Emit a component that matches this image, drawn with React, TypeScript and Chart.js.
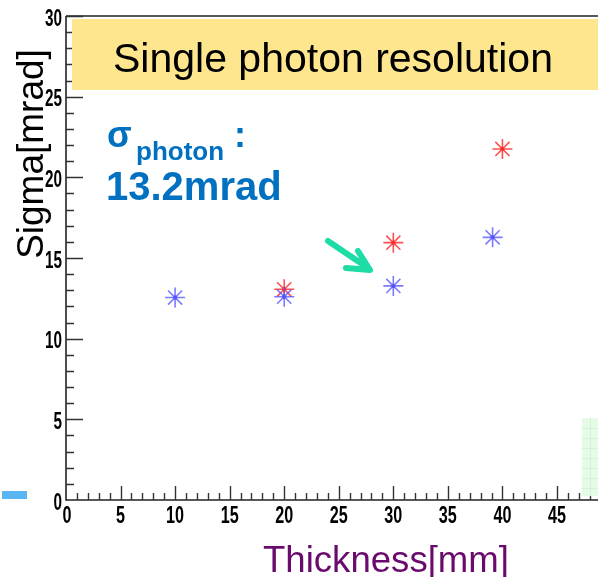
import React, { useEffect, useRef } from "react";
import { Chart, registerables } from "chart.js";

Chart.register(...registerables);

// Data
const blueThickness = [10, 20, 30, 39.1];
const blueSigma = [12.55, 12.6, 13.27, 16.28];
const redThickness = [20, 30, 40];
const redSigma = [13.06, 15.95, 21.76];

const xMin = 0;
const xMax = 48.76;
const yMin = 0;
const yMax = 30;
const xMajorTicks = [0, 5, 10, 15, 20, 25, 30, 35, 40, 45];
const yMajorTicks = [0, 5, 10, 15, 20, 25, 30];

const titleText = "Single photon resolution";
const yTitle = "Sigma[mrad]";
const xTitle = "Thickness[mm]";
const sigmaSymbol = "σ";
const sigmaSub = "photon";
const sigmaValue = "13.2mrad";

const toPoints = (xs: number[], ys: number[]) => xs.map((x, i) => ({ x, y: ys[i] }));

const decorPlugin = {
  id: "decor",
  afterDraw(chart: any) {
    const ctx: CanvasRenderingContext2D = chart.ctx;
    const xs = chart.scales.x;
    const ys = chart.scales.y;
    const area = chart.chartArea;
    ctx.save();

    // frame / axes
    ctx.strokeStyle = "#222";
    ctx.lineWidth = 1.6;
    ctx.beginPath();
    ctx.moveTo(area.left, area.top);
    ctx.lineTo(area.right, area.top);
    ctx.moveTo(area.left, area.top);
    ctx.lineTo(area.left, area.bottom);
    ctx.lineTo(area.right, area.bottom);
    ctx.stroke();

    // ticks
    ctx.lineWidth = 1.4;
    ctx.strokeStyle = "#333";
    ctx.beginPath();
    for (let v = 1; v <= Math.floor(xMax); v++) {
      const px = Math.round(xs.getPixelForValue(v)) + 0.5;
      const len = v % 5 === 0 ? 14 : 7;
      ctx.moveTo(px, area.bottom);
      ctx.lineTo(px, area.bottom - len);
    }
    for (let v = 1; v <= yMax; v++) {
      const py = Math.round(ys.getPixelForValue(v)) + 0.5;
      const len = v % 5 === 0 ? 17 : 8;
      ctx.moveTo(area.left, py);
      ctx.lineTo(area.left + len, py);
    }
    ctx.stroke();

    // tick labels
    ctx.fillStyle = "#000";
    ctx.font = "bold 24px 'Liberation Sans Narrow', 'Liberation Sans', sans-serif";
    ctx.textBaseline = "middle";
    ctx.textAlign = "center";
    xMajorTicks.forEach((v) => {
      const s = String(v);
      ctx.fillText(s, xs.getPixelForValue(v) + (v === 0 ? 1 : 0), area.bottom + 16, s.length * 9);
    });
    ctx.textAlign = "right";
    yMajorTicks.forEach((v) => {
      const s = String(v);
      ctx.fillText(s, area.left - 4, ys.getPixelForValue(v) + 3, s.length * 8.5);
    });

    // axis titles
    ctx.font = "37px 'Liberation Sans', sans-serif";
    ctx.fillStyle = "#000";
    ctx.textAlign = "center";
    ctx.textBaseline = "alphabetic";
    ctx.save();
    ctx.translate(43, 154);
    ctx.rotate(-Math.PI / 2);
    ctx.fillText(yTitle, 0, 0, 218);
    ctx.restore();

    ctx.fillStyle = "#690a6c";
    ctx.fillText(xTitle, 386, 572, 246);

    // title box
    ctx.fillStyle = "#fde68e";
    ctx.fillRect(72, 19, 540, 71);
    ctx.fillStyle = "#000";
    ctx.font = "41px 'Liberation Sans', sans-serif";
    ctx.textAlign = "left";
    ctx.fillText(titleText, 113, 72, 440);

    // sigma annotation
    ctx.fillStyle = "#0070c0";
    ctx.font = "bold 36px 'Liberation Sans', sans-serif";
    ctx.fillText(sigmaSymbol, 107, 147);
    ctx.font = "bold 26px 'Liberation Sans', sans-serif";
    ctx.fillText(sigmaSub, 136, 160, 91);
    ctx.font = "bold 36px 'Liberation Sans', sans-serif";
    ctx.fillText(":", 234, 147);
    ctx.font = "bold 40px 'Liberation Sans', sans-serif";
    ctx.fillText(sigmaValue, 106, 200, 183);

    // arrow
    ctx.strokeStyle = "#1edca6";
    ctx.lineWidth = 6;
    ctx.lineCap = "round";
    ctx.lineJoin = "round";
    ctx.beginPath();
    ctx.moveTo(328, 241);
    ctx.lineTo(368, 268);
    ctx.moveTo(358, 251);
    ctx.lineTo(370, 270);
    ctx.lineTo(346, 268);
    ctx.stroke();

    // small blue mark at bottom left
    ctx.fillStyle = "#5ab6f2";
    ctx.fillRect(2, 491, 25, 8);

    // light green patch at right
    ctx.fillStyle = "#e5fbe5";
    ctx.fillRect(582, 418, 16, 78);
    ctx.strokeStyle = "rgba(180,230,180,0.35)";
    ctx.lineWidth = 1;
    ctx.beginPath();
    for (let yy = 428; yy < 496; yy += 10) {
      ctx.moveTo(582, yy + 0.5);
      ctx.lineTo(598, yy + 0.5);
    }
    ctx.moveTo(590.5, 418);
    ctx.lineTo(590.5, 496);
    ctx.stroke();

    ctx.restore();
  },
};

export default function App() {
  const ref = useRef<HTMLCanvasElement | null>(null);

  useEffect(() => {
    if (!ref.current) return;
    const chart = new Chart(ref.current, {
      type: "scatter",
      data: {
        datasets: [
          {
            label: "blue",
            data: toPoints(blueThickness, blueSigma),
            pointStyle: "star",
            radius: 10,
            borderColor: "rgba(90,90,255,0.8)",
            backgroundColor: "rgba(90,90,255,0.8)",
            borderWidth: 1.6,
          },
          {
            label: "blue-center",
            data: toPoints(blueThickness, blueSigma),
            pointStyle: "circle",
            radius: 2,
            borderWidth: 0,
            backgroundColor: "#3a3ae8",
          },
          {
            label: "red",
            data: toPoints(redThickness, redSigma),
            pointStyle: "star",
            radius: 10,
            borderColor: "rgba(255,50,50,0.85)",
            backgroundColor: "rgba(255,50,50,0.85)",
            borderWidth: 1.6,
          },
          {
            label: "red-center",
            data: toPoints(redThickness, redSigma),
            pointStyle: "circle",
            radius: 2,
            borderWidth: 0,
            backgroundColor: "#e01010",
          },
        ],
      },
      options: {
        responsive: false,
        animation: false,
        devicePixelRatio: 1,
        layout: { autoPadding: false, padding: { left: 66, top: 16, right: 0, bottom: 77 } },
        plugins: { legend: { display: false }, tooltip: { enabled: false } },
        scales: {
          x: { type: "linear", min: xMin, max: xMax, display: false },
          y: { type: "linear", min: yMin, max: yMax, display: false },
        },
      },
      plugins: [decorPlugin],
    });
    return () => chart.destroy();
  }, []);

  return (
    <div style={{ position: "fixed", left: 0, top: 0, width: 598, height: 577, background: "#fff" }}>
      <canvas ref={ref} width={598} height={577} />
    </div>
  );
}
